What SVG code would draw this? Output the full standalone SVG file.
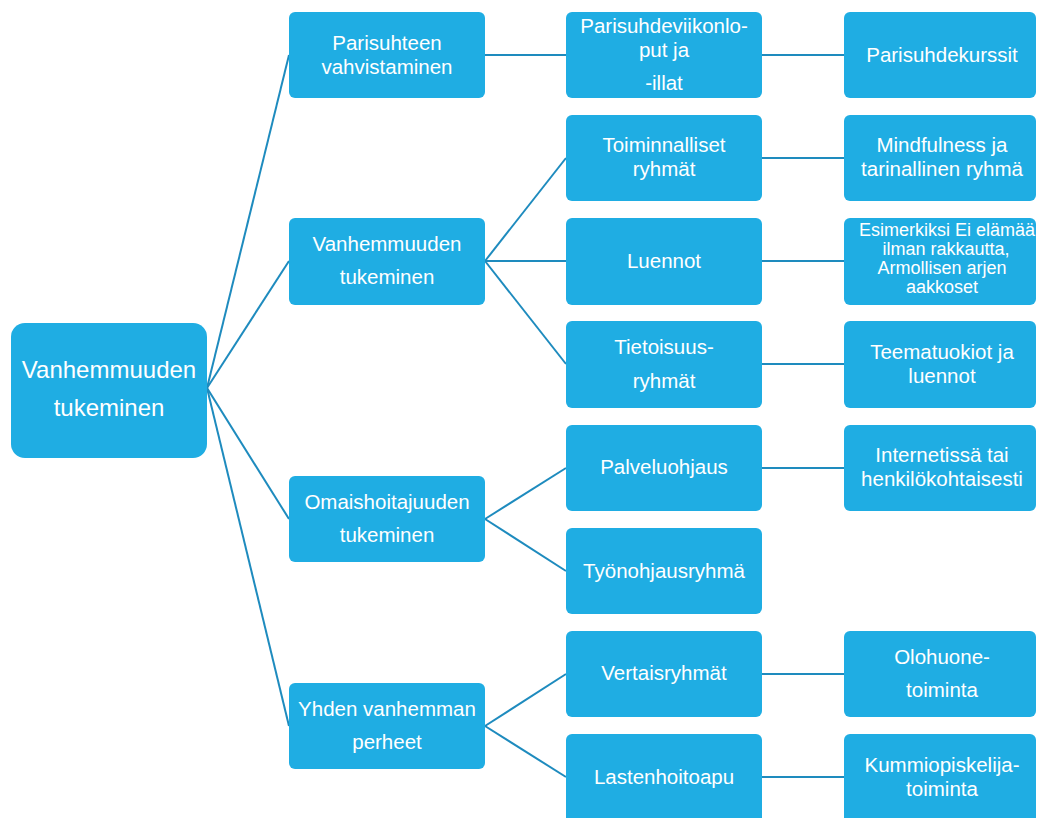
<svg xmlns="http://www.w3.org/2000/svg" width="1037" height="818" viewBox="0 0 1037 818">
<style>
.b{fill:#1FADE3}
.t{fill:#fff;font-family:"Liberation Sans",Arial,sans-serif;font-size:20.5px;text-anchor:middle}
.s{font-size:18px}
.r{font-size:24px}
.c line{stroke:#1E8BBE;stroke-width:2}
</style>
<rect width="1037" height="818" fill="#fff"/>
<g class="c">
<line x1="207" y1="388" x2="289" y2="55"/>
<line x1="207" y1="388" x2="289" y2="261"/>
<line x1="207" y1="388" x2="289" y2="519"/>
<line x1="207" y1="388" x2="289" y2="726"/>
<line x1="485" y1="55" x2="566" y2="55"/>
<line x1="485" y1="261" x2="566" y2="158"/>
<line x1="485" y1="261" x2="566" y2="261"/>
<line x1="485" y1="261" x2="566" y2="364"/>
<line x1="485" y1="519" x2="566" y2="468"/>
<line x1="485" y1="519" x2="566" y2="571"/>
<line x1="485" y1="726" x2="566" y2="674"/>
<line x1="485" y1="726" x2="566" y2="777"/>
<line x1="762" y1="55" x2="844" y2="55"/>
<line x1="762" y1="158" x2="844" y2="158"/>
<line x1="762" y1="261" x2="844" y2="261"/>
<line x1="762" y1="364" x2="844" y2="364"/>
<line x1="762" y1="468" x2="844" y2="468"/>
<line x1="762" y1="674" x2="844" y2="674"/>
<line x1="762" y1="777" x2="844" y2="777"/>
</g>
<g id="root"><rect class="b" x="11" y="323" width="196" height="135" rx="14"/><text class="t r" x="109" y="378">Vanhemmuuden</text><text class="t r" x="109" y="416">tukeminen</text></g>
<g id="n1"><rect class="b" x="289" y="12" width="196" height="86" rx="6"/><text class="t" x="387" y="50">Parisuhteen</text><text class="t" x="387" y="74">vahvistaminen</text></g>
<g id="n2"><rect class="b" x="289" y="218" width="196" height="87" rx="6"/><text class="t" x="387" y="251">Vanhemmuuden</text><text class="t" x="387" y="284">tukeminen</text></g>
<g id="n3"><rect class="b" x="289" y="476" width="196" height="86" rx="6"/><text class="t" x="387" y="509">Omaishoitajuuden</text><text class="t" x="387" y="542">tukeminen</text></g>
<g id="n4"><rect class="b" x="289" y="683" width="196" height="86" rx="6"/><text class="t" x="387" y="716">Yhden vanhemman</text><text class="t" x="387" y="749">perheet</text></g>
<g id="n11"><rect class="b" x="566" y="12" width="196" height="86" rx="6"/><text class="t" x="664" y="33">Parisuhdeviikonlo-</text><text class="t" x="664" y="57">put ja</text><text class="t" x="664" y="90">-illat</text></g>
<g id="n21"><rect class="b" x="566" y="115" width="196" height="86" rx="6"/><text class="t" x="664" y="152">Toiminnalliset</text><text class="t" x="664" y="176">ryhmät</text></g>
<g id="n22"><rect class="b" x="566" y="218" width="196" height="87" rx="6"/><text class="t" x="664" y="268">Luennot</text></g>
<g id="n23"><rect class="b" x="566" y="321" width="196" height="87" rx="6"/><text class="t" x="664" y="354">Tietoisuus-</text><text class="t" x="664" y="388">ryhmät</text></g>
<g id="n31"><rect class="b" x="566" y="425" width="196" height="86" rx="6"/><text class="t" x="664" y="474">Palveluohjaus</text></g>
<g id="n32"><rect class="b" x="566" y="528" width="196" height="86" rx="6"/><text class="t" x="664" y="578">Työnohjausryhmä</text></g>
<g id="n41"><rect class="b" x="566" y="631" width="196" height="86" rx="6"/><text class="t" x="664" y="680">Vertaisryhmät</text></g>
<g id="n42"><rect class="b" x="566" y="734" width="196" height="90" rx="6"/><text class="t" x="664" y="784">Lastenhoitoapu</text></g>
<g id="n111"><rect class="b" x="844" y="12" width="192" height="86" rx="6"/><text class="t" x="942" y="62">Parisuhdekurssit</text></g>
<g id="n211"><rect class="b" x="844" y="115" width="192" height="86" rx="6"/><text class="t" x="942" y="152">Mindfulness ja</text><text class="t" x="942" y="176">tarinallinen ryhmä</text></g>
<g id="n221"><rect class="b" x="844" y="218" width="192" height="87" rx="6"/><text class="t s" x="947" y="236">Esimerkiksi Ei elämää</text><text class="t s" x="946" y="255">ilman rakkautta,</text><text class="t s" x="942" y="274">Armollisen arjen</text><text class="t s" x="942" y="293">aakkoset</text></g>
<g id="n231"><rect class="b" x="844" y="321" width="192" height="87" rx="6"/><text class="t" x="942" y="359">Teematuokiot ja</text><text class="t" x="942" y="383">luennot</text></g>
<g id="n311"><rect class="b" x="844" y="425" width="192" height="86" rx="6"/><text class="t" x="942" y="462">Internetissä tai</text><text class="t" x="942" y="486">henkilökohtaisesti</text></g>
<g id="n411"><rect class="b" x="844" y="631" width="192" height="86" rx="6"/><text class="t" x="942" y="664">Olohuone-</text><text class="t" x="942" y="697">toiminta</text></g>
<g id="n421"><rect class="b" x="844" y="734" width="192" height="90" rx="6"/><text class="t" x="942" y="772">Kummiopiskelija-</text><text class="t" x="942" y="796">toiminta</text></g>
</svg>
